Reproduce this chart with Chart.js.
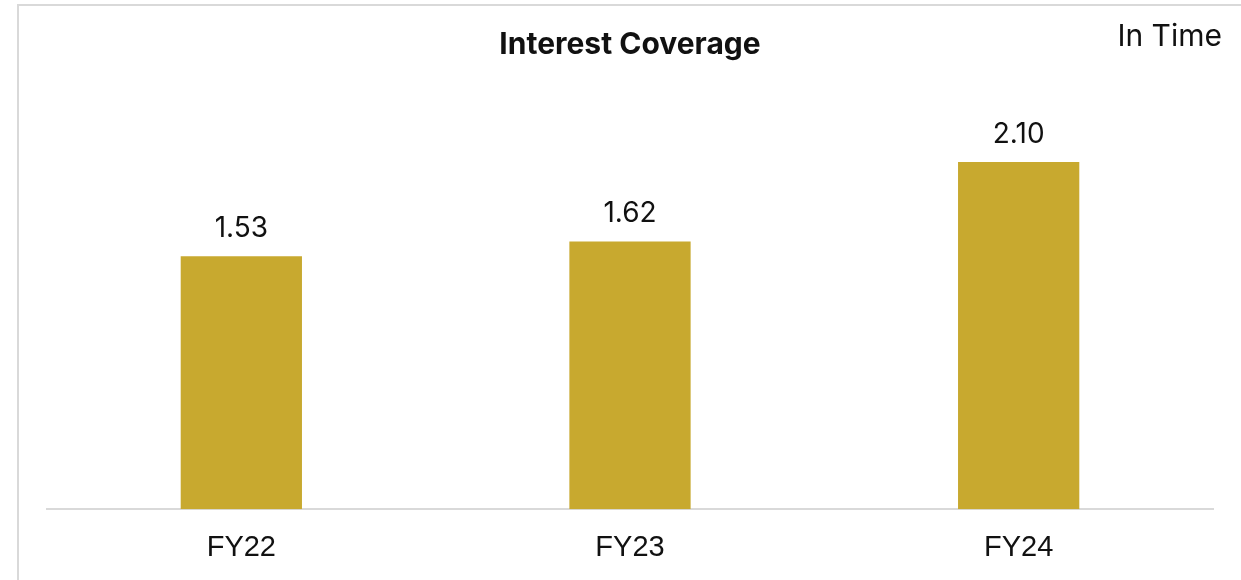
<!DOCTYPE html>
<html>
<head>
<meta charset="utf-8">
<script src="https://cdn.jsdelivr.net/npm/chart.js@4/dist/chart.umd.min.js"></script>
<style>
	html, body { margin: 0; padding: 0; background: #fff; }
	#wrap { width: 1241px; height: 580px; }
</style>
</head>
<body>
<div id="wrap"><canvas id="chart-interest-coverage" width="1241" height="580"></canvas></div>
<script>
const CATEGORIES = ["FY22", "FY23", "FY24"];
const COVERAGE = [1.53, 1.62, 2.10];
const TITLE = "Interest Coverage";
const UNIT = "In Time";

const BAR_COLOR = "#C8A92F";
const LINE_COLOR = "#D9D9D9";
const TEXT_COLOR = "#111111";
const LABEL_FONT = "Inter, 'Open Sans', sans-serif";

// Frame, title, unit note and value labels
const decorations = {
	id: "decorations",
	beforeDraw(chart) {
		const { ctx } = chart;
		ctx.save();
		ctx.strokeStyle = LINE_COLOR;
		ctx.lineWidth = 2;
		ctx.beginPath();
		ctx.moveTo(18, 581);
		ctx.lineTo(18, 5);
		ctx.lineTo(1242, 5);
		ctx.stroke();
		ctx.restore();
	},
	afterDatasetsDraw(chart) {
		const { ctx, chartArea } = chart;
		ctx.save();
		ctx.fillStyle = TEXT_COLOR;
		ctx.textBaseline = "middle";

		ctx.textAlign = "center";
		ctx.font = "bold 30px " + LABEL_FONT;
		ctx.fillText(TITLE, (chartArea.left + chartArea.right) / 2, 45);

		ctx.textAlign = "right";
		ctx.font = "30px " + LABEL_FONT;
		ctx.fillText(UNIT, 1222, 37);

		ctx.textAlign = "center";
		ctx.font = "28px " + LABEL_FONT;
		const meta = chart.getDatasetMeta(0);
		meta.data.forEach((bar, i) => {
			ctx.fillText(COVERAGE[i].toFixed(2), bar.x, bar.y - 28);
		});
		ctx.restore();
	},
};

const CHART_DATA = {
	labels: CATEGORIES,
	datasets: [
		{
			label: TITLE,
			data: COVERAGE,
			backgroundColor: BAR_COLOR,
			borderWidth: 0,
			categoryPercentage: 1,
			barPercentage: 0.312,
		},
	],
};

const CHART_CONFIG = {
	type: "bar",
	data: CHART_DATA,
	options: {
		responsive: false,
		animation: false,
		maintainAspectRatio: false,
		layout: {
			padding: {
				left: 47,
				right: 28,
				top: 96,
				bottom: -6,
			},
		},
		plugins: {
			legend: { display: false },
			title: { display: false },
			tooltip: { enabled: false },
		},
		scales: {
			x: {
				border: {
					display: true,
					color: LINE_COLOR,
					width: 2,
				},
				grid: {
					display: false,
					drawTicks: false,
				},
				ticks: {
					color: TEXT_COLOR,
					padding: 21,
					font: { family: "'Liberation Sans', Arial, sans-serif", size: 29 },
				},
			},
			y: {
				display: false,
				min: 0,
				max: 2.5,
			},
		},
	},
	plugins: [decorations],
};

new Chart(document.getElementById("chart-interest-coverage"), CHART_CONFIG);
</script>
</body>
</html>
